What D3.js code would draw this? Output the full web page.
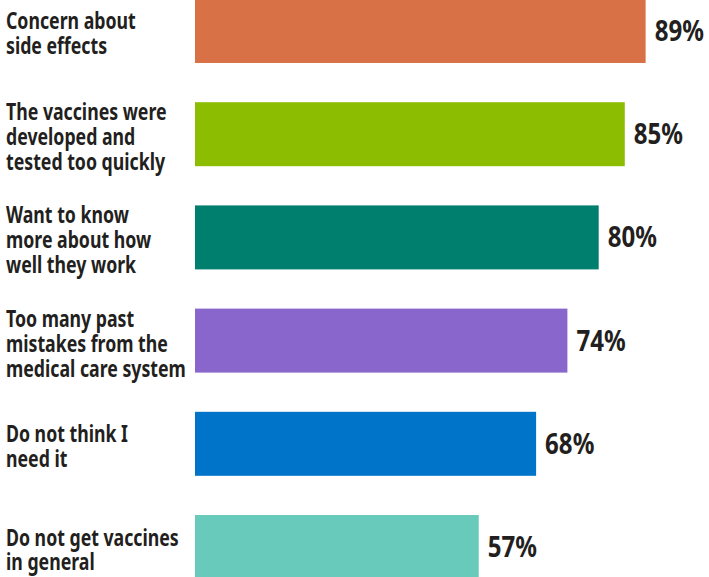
<!DOCTYPE html>
<html>
<head>
<meta charset="utf-8">
<script src="https://cdn.jsdelivr.net/npm/d3@7"></script>
<style>
  body { margin: 0; background: #fff; }
  svg { display: block; }
  text { font-family: "Noto Sans", "Open Sans", sans-serif; font-weight: bold; fill: #231f20; }
</style>
</head>
<body>
<div id="chart"></div>
<script>
var categories = [
  ["Concern about", "side effects"],
  ["The vaccines were", "developed and", "tested too quickly"],
  ["Want to know", "more about how", "well they work"],
  ["Too many past", "mistakes from the", "medical care system"],
  ["Do not think I", "need it"],
  ["Do not get vaccines", "in general"]
];
var values = [89, 85, 80, 74, 68, 57];
var colors = ["#d97146", "#8dbd00", "#007e6e", "#8966cc", "#0074c8", "#68cabb"];

var width = 709, height = 577;
// no condensed face installed, so squeeze the glyphs a bit
var squeezeCat = 0.77, squeezeVal = 0.86;

var svg = d3.select("#chart")
    .append("svg")
    .attr("width", width)
    .attr("height", height);

var idx = d3.range(values.length);

var y = d3.scaleBand()
    .domain(idx)
    .range([-1, 579])
    .paddingInner(0.38)
    .paddingOuter(0);

// bars start at the left edge of the plot (x = 195)
var x = d3.scaleLinear()
    .domain([2.6, 100])
    .range([195, 703]);

svg.selectAll("rect.bar")
    .data(idx)
    .enter().append("rect")
    .attr("class", "bar")
    .attr("x", x(2.6))
    .attr("y", function (i) { return y(i); })
    .attr("width", function (i) { return x(values[i]) - x(2.6); })
    .attr("height", y.bandwidth())
    .attr("fill", function (i) { return colors[i]; });

// value labels
svg.selectAll("text.val")
    .data(idx)
    .enter().append("text")
    .attr("class", "val")
    .attr("transform", function (i) {
        return "translate(" + (x(values[i]) + 9) + "," + (y(i) + y.bandwidth() / 2) + ") scale(" + squeezeVal + ",1)";
    })
    .attr("dy", "0.36em")
    .style("font-size", "28px")
    .text(function (i) { return values[i] + "%"; });

// category labels
var lineH = 25;
var lab = svg.selectAll("text.cat")
    .data(idx)
    .enter().append("text")
    .attr("class", "cat")
    .style("font-size", "23px")
    .attr("transform", function (i) {
        var n = categories[i].length;
        var ty = y(i) + y.bandwidth() / 2 - (n - 1) * lineH / 2 + 11;
        return "translate(6," + ty + ") scale(" + squeezeCat + ",1)";
    });

lab.selectAll("tspan")
    .data(function (i) { return categories[i]; })
    .enter().append("tspan")
    .attr("x", 0)
    .attr("dy", function (d, j) { return j === 0 ? 0 : lineH; })
    .text(function (d) { return d; });
</script>
</body>
</html>
